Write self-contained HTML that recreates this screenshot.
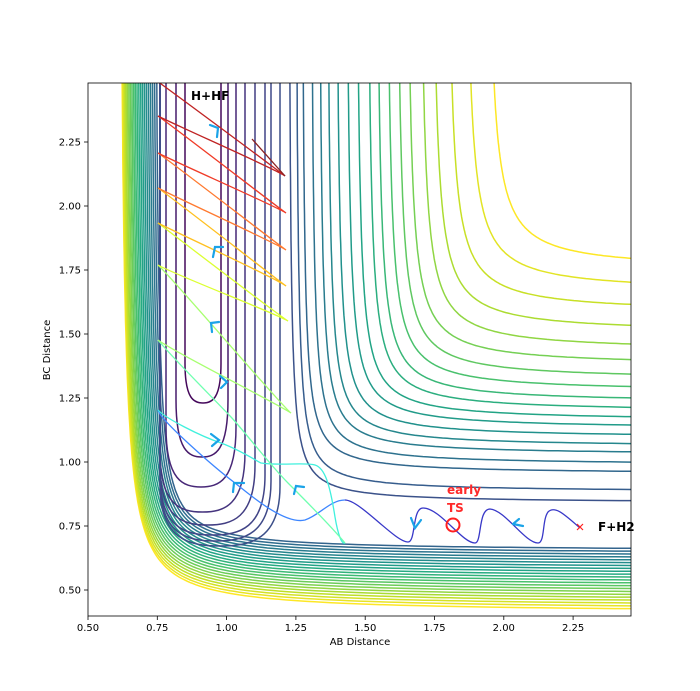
<!DOCTYPE html>
<html><head><meta charset="utf-8">
<style>
html,body{margin:0;padding:0;background:#fff;}
svg{display:block;}
text{font-family:"DejaVu Sans","Liberation Sans",sans-serif;}
</style></head>
<body>
<svg id="s" width="700" height="691" viewBox="0 0 700 691" xmlns="http://www.w3.org/2000/svg">
<defs><clipPath id="cp"><rect x="88" y="83" width="543" height="533"/></clipPath></defs>
<rect width="700" height="691" fill="#fff"/>
<g id="cont" clip-path="url(#cp)" fill="none" stroke-width="1.5"></g>
<g id="traj" clip-path="url(#cp)" fill="none" stroke-width="1.3"></g>
<g id="arr" fill="none" stroke="#1aa3e8" stroke-width="2.2" stroke-linecap="round"></g>
<circle cx="453" cy="525" r="6.5" fill="none" stroke="#ff2020" stroke-width="2"/>
<path d="M577,524 L583,530 M583,524 L577,530" stroke="#ff2020" stroke-width="1.2"/>
<text x="447" y="494" font-size="12" font-weight="bold" fill="#ff2a2a">early</text>
<text x="447" y="512" font-size="12" font-weight="bold" fill="#ff2a2a">TS</text>
<text x="598" y="531" font-size="12" font-weight="bold" fill="#000">F+H2</text>
<text x="191" y="100" font-size="12" font-weight="bold" fill="#000">H+HF</text>
<rect x="88" y="83" width="543" height="533" fill="none" stroke="#000" stroke-width="0.8"/>
<g id="ticks" font-size="10" fill="#000"></g>
<text x="360" y="645" font-size="10" text-anchor="middle">AB Distance</text>
<text x="0" y="0" font-size="10" text-anchor="middle" transform="translate(50,350) rotate(-90)">BC Distance</text>
</svg>
<script>
var NS="http://www.w3.org/2000/svg";
function el(p,tag,a,txt){var e=document.createElementNS(NS,tag);for(var k in a)e.setAttribute(k,a[k]);if(txt!=null)e.textContent=txt;p.appendChild(e);return e;}
var V=[[0,68,1,84],[.1,72,36,117],[.2,65,68,135],[.3,53,95,141],[.4,42,120,142],[.5,33,145,140],[.6,34,168,132],[.7,68,191,112],[.8,122,209,81],[.9,189,223,38],[1,253,231,37]];
function vir(t){t=Math.max(0,Math.min(1,t));for(var i=0;i<V.length-1;i++){if(t<=V[i+1][0]){var f=(t-V[i][0])/(V[i+1][0]-V[i][0]);var c=[1,2,3].map(function(j){return Math.round(V[i][j]+f*(V[i+1][j]-V[i][j]));});return "rgb("+c.join(",")+")";}}return "rgb(253,231,37)";}
var G=document.getElementById("cont");
function elbow(X,Y,c,col){var r=Math.sqrt(c);var s1=-Math.log((Y-80)/r),s2=Math.log((635-X)/r);var d="";for(var i=0;i<=120;i++){var s=s1+(s2-s1)*i/120;var x=X+r*Math.exp(s),y=Y-r*Math.exp(-s);d+=(i?"L":"M")+x.toFixed(1)+","+y.toFixed(1);}el(G,"path",{d:d,stroke:col});}
var NW=22;
for(var i=0;i<NW;i++){var f=i/(NW-1);var X=118+Math.pow(f,1.3)*36,Y=613-f*62,c=2200-f*900;elbow(X,Y,c,vir(1-f*0.68));}
var XS=[288,295,301,310,318,326,335,345,355,366,375,385,395,405,418,430,445,463,485];
var YS=[503,492,474,465,455,447,438,429,421,412,403,392,380,366,351,333,313,292,270];
for(var i=0;i<XS.length;i++){var f=i/(XS.length-1);var c=800+f*900;elbow(XS[i],YS[i],c,vir(0.25+f*0.75));}
var U=[[185,221,403,0.02],[176,228,457,0.07],[166,236,487,0.11],[160,245,512,0.15],[160,255,525,0.18],[160,265,535,0.2],[160,271,541,0.22],[160,280,546,0.24]];
U.forEach(function(u){var xl=u[0],xr=u[1],yb=u[2],w=xr-xl,h=Math.min(w*1.1,60);
var d="M"+xl+",80 L"+xl+","+(yb-h)+" C"+xl+","+(yb-h*0.1)+" "+(xl+w*0.25)+","+yb+" "+((xl+xr)/2)+","+yb+" C"+(xr-w*0.25)+","+yb+" "+xr+","+(yb-h*0.1)+" "+xr+","+(yb-h)+" L"+xr+",80";
el(G,"path",{d:d,stroke:vir(u[3])});});
var T=document.getElementById("traj");
function seg(d,col){el(T,"path",{d:d,stroke:col});}
seg("M580,528 C565,515 555,505 548,512 C542,520 545,543 538,543 C525,543 505,510 490,509 C478,509 482,543 475,543 C462,543 440,508 423,508 C412,508 416,542 408,542 C395,542 360,500 345,500","#3838c8");
seg("M345,500 C330,500 320,515 305,520 C285,525 250,495 235,483 C215,468 160,420 158,410","#3d86ff");
seg("M158,410 C165,418 200,436 221,443 C240,450 255,460 261,463 C280,466 305,462 315,465 C325,468 330,485 335,517 C338,535 342,545 345,543","#40f0dd");
seg("M345,543 C330,525 300,495 288,483 C270,465 245,432 231,417 C205,390 170,355 158,340","#70ffb0");
seg("M158,340 C170,350 280,405 291,413 C285,410 170,275 158,265","#a8ff70");
seg("M158,265 C175,275 280,315 288,321 C282,318 170,232 158,223","#dcff30");
seg("M158,223 C175,232 280,280 286,286 C280,282 170,196 158,188","#ffc020");
seg("M158,188 C175,197 280,245 286,250 C280,246 170,161 158,153","#ff7a30");
seg("M158,153 C175,162 280,208 286,213 C280,209 170,124 158,116","#f03c28");
seg("M158,116 C175,125 280,171 285,176 C280,172 170,90 150,76","#c02424");
seg("M252,139 L285,176","#8b2222");
var A=document.getElementById("arr");
["M210,125 L218,128 L217,137","M213,257 L215,247 L223,247","M212,332 L211,323 L219,322","M220,376 L227,382 L221,388","M211,434 L219,440 L212,446","M233,492 L234,483 L244,483","M294,494 L296,486 L304,487","M411,518 L415,528 L421,520","M513,524 L519,519 M513,524 L523,526"].forEach(function(p){el(A,"path",{d:p});});
var K=document.getElementById("ticks");
var xl=["0.50","0.75","1.00","1.25","1.50","1.75","2.00","2.25"];
for(var i=0;i<8;i++){var x=88+i*69.3;el(K,"line",{x1:x,y1:616,x2:x,y2:620,stroke:"#000","stroke-width":0.8});el(K,"text",{x:x,y:631,"text-anchor":"middle"},xl[i]);}
for(var i=0;i<8;i++){var y=590-i*64;el(K,"line",{x1:84,y1:y,x2:88,y2:y,stroke:"#000","stroke-width":0.8});el(K,"text",{x:81,y:y+3.5,"text-anchor":"end"},xl[i]);}
</script>
</body></html>
